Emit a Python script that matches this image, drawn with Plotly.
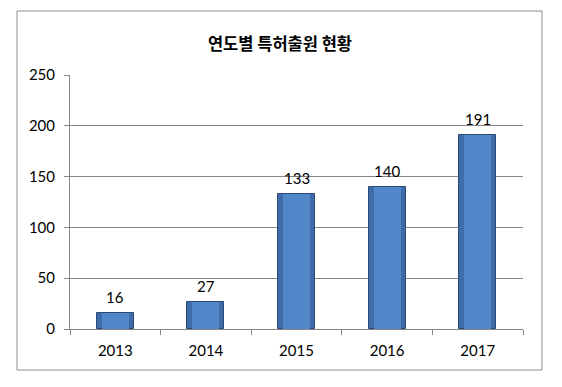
import plotly.graph_objects as go

years = ["2013", "2014", "2015", "2016", "2017"]
counts = [16, 27, 133, 140, 191]
title_text = "연도별 특허출원 현황"

W, H = 562, 387
L, R, T, B = 70, 39, 75, 58
pw, ph = W - L - R, H - T - B

def px_x(x):
    return (x - L) / pw

def px_y(y):
    return (H - B - y) / ph

font_fam = "Lato, Open Sans, Noto Sans CJK KR, sans-serif"

fig = go.Figure()
fig.add_trace(go.Bar(
    x=years, y=counts, width=0.41,
    marker=dict(color="#3f6ca8", line=dict(color="#2a4a76", width=1)),
    hoverinfo="x+y",
))
fig.add_trace(go.Bar(
    x=years, y=counts, width=0.3,
    marker=dict(color="#5187c9", line=dict(width=0)),
    hoverinfo="skip", showlegend=False,
))
for i, c in enumerate(counts):
    fig.add_annotation(x=i, y=c, text=str(c), showarrow=False,
                       yanchor="middle", yshift=16,
                       font=dict(size=15, color="#000000", family=font_fam))

fig.update_layout(
    width=W, height=H, barmode="overlay", showlegend=False,
    margin=dict(l=L, r=R, t=T, b=B),
    paper_bgcolor="white", plot_bgcolor="white",
    title=dict(text="<b>" + title_text + "</b>", x=280 / W, xanchor="center",
               y=1 - 44 / H, yanchor="middle",
               font=dict(size=16.5, color="#000000", family="Noto Sans CJK KR, sans-serif")),
    font=dict(family=font_fam, size=15, color="#000000"),
    bargap=0,
    xaxis=dict(type="category", showline=True, linecolor="#868686", linewidth=1,
               ticks="outside", tickson="boundaries", ticklen=5, tickcolor="#868686",
               ticklabelstandoff=8,
               tickfont=dict(size=15), showgrid=False),
    yaxis=dict(range=[0, 250], dtick=50, showline=True, linecolor="#868686", linewidth=1,
               ticks="outside", ticklen=5, tickcolor="#868686", ticklabelstandoff=6,
               showgrid=True, gridcolor="#868686", gridwidth=1, zeroline=False,
               tickfont=dict(size=15)),
    shapes=[dict(type="rect", xref="paper", yref="paper",
                 x0=px_x(17), x1=px_x(542), y0=px_y(370), y1=px_y(11),
                 line=dict(color="#8c8c8c", width=1), fillcolor="rgba(0,0,0,0)", layer="below")],
)
fig.write_html("out.html", config={"displayModeBar": False},
               post_script="document.body.style.margin='0';")
